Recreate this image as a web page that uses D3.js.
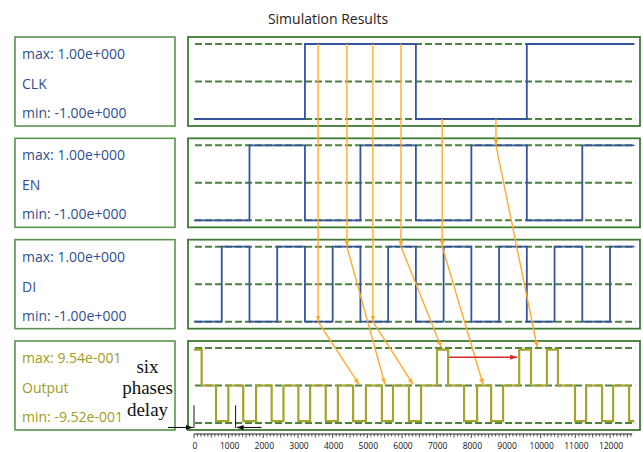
<!DOCTYPE html>
<html>
<head>
<meta charset="utf-8">
<script src="https://cdn.jsdelivr.net/npm/d3@7/dist/d3.min.js"></script>
<style>
  html, body { margin: 0; padding: 0; background: #fff; }
  svg { display: block; }
</style>
</head>
<body>
<svg id="chart" width="643" height="452"></svg>
<script>
// ---- signal data (time in ps-like units, levels in volts) ----
const signalNames = ["CLK", "EN", "DI", "Output"];
const maxLabels = ["max: 1.00e+000", "max: 1.00e+000", "max: 1.00e+000", "max: 9.54e-001"];
const minLabels = ["min: -1.00e+000", "min: -1.00e+000", "min: -1.00e+000", "min: -9.52e-001"];

const clkEdges = [3200, 6400, 9600];
const enEdges = [1600, 3200, 4800, 6400, 8000, 9600, 11200];
const diEdges = [800, 1600, 2400, 3200, 4000, 4800, 5600, 6400, 7200, 8000, 8800, 9600, 10400, 11200, 12000];
const startLevel = -1;

// output waveform as [time, level] steps
const outputSteps = [
  [0, 0.954], [220, 0], [635, -0.952], [990, 0], [1420, -0.952], [1790, 0],
  [2240, -0.952], [2580, 0], [3010, -0.952], [3350, 0], [3800, -0.952], [4150, 0],
  [4590, -0.952], [4960, 0], [5420, -0.952], [5740, 0], [6200, -0.952], [6550, 0],
  [7010, 0.954], [7330, 0], [7790, -0.952], [8165, 0], [8570, -0.952], [8915, 0],
  [9380, 0.954], [9720, 0], [10180, 0.954], [10500, 0], [10990, -0.952], [11310, 0],
  [11770, -0.952], [12090, 0], [12550, -0.952]
];
const tEnd = 12700;

// time axis
const majorTicks = [0, 1000, 2000, 3000, 4000, 5000, 6000, 7000, 8000, 9000, 10000, 11000, 12000];
const axisEnd = 12640;

// sampling annotations: clock instants -> input level -> resulting output
const sampleTimes = [3580, 4410, 5160, 5970, 7160, 8710];
const sampleClkLevel = [1, 1, 1, 1, -1, -1];
const sampleRow = [2, 2, 2, 2, 2, 1];
const sampleRowLevel = [-1, 1, -1, 1, 1, 1];
const resultTimes = [4760, 5510, 6320, 7130, 8340, 9900];
const resultLevels = [0, 0, 0, 1, 0, 1];

// red span between two output pulses
const spanFrom = 7360, spanTo = 9320, spanLevel = 0.755;

// six phases delay markers
const delayMarks = [0, 1200];
const delayText = ["six", "phases", "delay"];

// ---- layout ----
const svg = d3.select("#chart");
const blue = "#34559c", olive = "#a4a42c", gridGreen = "#3f7a35", orange = "#ffab2e";

const x = d3.scaleLinear().domain([0, tEnd]).range([194, 634.3]);
const rowTop = i => 37 + i * 101.33;
const rowH = 89;
const yRow = i => d3.scaleLinear().domain([-1, 1]).range([rowTop(i) + 82, rowTop(i) + 7]);

// markers
const defs = svg.append("defs");
function marker(id, color, len, wid) {
  defs.append("marker")
    .attr("id", id).attr("viewBox", `0 0 ${len} ${wid}`)
    .attr("refX", len).attr("refY", wid / 2)
    .attr("markerWidth", len).attr("markerHeight", wid)
    .attr("markerUnits", "userSpaceOnUse").attr("orient", "auto")
    .append("path").attr("d", `M0,0L${len},${wid / 2}L0,${wid}Z`).attr("fill", color);
}
marker("arrOrange", orange, 6, 5);
marker("arrRed", "#d42a2a", 7, 5);
marker("arrBlack", "#111", 7, 5);

// title
svg.append("text").attr("x", 328).attr("y", 24).attr("text-anchor", "middle")
  .attr("font-family", "Open Sans, sans-serif").attr("font-size", 14).attr("fill", "#222")
  .text("Simulation Results");

const stepLine = d3.line().curve(d3.curveStepAfter);

function edgesToSteps(edges) {
  const pts = [[0, startLevel]];
  let lv = startLevel;
  edges.forEach(t => { lv = -lv; pts.push([t, lv]); });
  pts.push([tEnd, lv]);
  return pts;
}
const seriesSteps = [edgesToSteps(clkEdges), edgesToSteps(enEdges), edgesToSteps(diEdges),
  outputSteps.concat([[tEnd, outputSteps[outputSteps.length - 1][1]]])];

signalNames.forEach((name, i) => {
  const top = rowTop(i);
  const y = yRow(i);
  const textColor = i === 3 ? "#9c9c1e" : "#2f4f92";

  // label box
  svg.append("rect").attr("x", 15).attr("y", top).attr("width", 160).attr("height", rowH)
    .attr("fill", "#fff").attr("stroke", "#5a9350").attr("stroke-width", 1.6);
  const g = svg.append("g").attr("font-family", "Open Sans, sans-serif")
    .attr("font-size", 14).attr("fill", textColor);
  g.append("text").attr("x", 22).attr("y", top + 22).text(maxLabels[i]);
  g.append("text").attr("x", 22).attr("y", top + 52).text(name);
  g.append("text").attr("x", 22).attr("y", top + 81).text(minLabels[i]);

  // plot frame
  svg.append("rect").attr("x", 188).attr("y", top).attr("width", 452).attr("height", rowH)
    .attr("fill", "#fff").attr("stroke", gridGreen).attr("stroke-width", 1.8);

  // dashed reference levels
  svg.append("g").selectAll("line").data([1, 0, -1]).join("line")
    .attr("x1", x(30)).attr("x2", x(tEnd) + 1)
    .attr("y1", d => y(d)).attr("y2", d => y(d))
    .attr("stroke", "#4b8040").attr("stroke-width", 2).attr("stroke-dasharray", "7,3");

  // waveform
  const lineGen = stepLine.x(d => x(d[0])).y(d => y(d[1]));
  svg.append("path").datum(seriesSteps[i]).attr("d", lineGen)
    .attr("fill", "none").attr("stroke", i === 3 ? olive : blue)
    .attr("stroke-width", i === 3 ? 2.2 : 1.8);
});

// time axis ruler
const axisY = 434;
const minorTicks = d3.range(0, axisEnd, 100);
svg.append("line").attr("x1", x(0)).attr("x2", x(axisEnd)).attr("y1", axisY).attr("y2", axisY)
  .attr("stroke", "#222").attr("stroke-width", 1);
svg.append("g").selectAll("line").data(minorTicks).join("line")
  .attr("x1", d => x(d)).attr("x2", d => x(d)).attr("y1", axisY)
  .attr("y2", d => axisY + (d % 1000 === 0 ? 4 : d % 500 === 0 ? 3.5 : 2.5))
  .attr("stroke", "#222").attr("stroke-width", 0.8);
svg.append("g").attr("font-family", "Open Sans, sans-serif").attr("font-size", 8.5)
  .attr("fill", "#111").attr("text-anchor", "middle")
  .selectAll("text").data(majorTicks).join("text")
  .attr("x", d => x(d) + 1).attr("y", 449).text(d => d);

// sampling arrows
const yClk = yRow(0), yOut = yRow(3);
sampleTimes.forEach((t, k) => {
  const yr = yRow(sampleRow[k]);
  svg.append("line").attr("x1", x(t)).attr("x2", x(t))
    .attr("y1", yClk(sampleClkLevel[k])).attr("y2", yr(sampleRowLevel[k]))
    .attr("stroke", orange).attr("stroke-width", 1.4).attr("marker-end", "url(#arrOrange)");
  svg.append("line").attr("x1", x(t)).attr("y1", yr(sampleRowLevel[k]))
    .attr("x2", x(resultTimes[k])).attr("y2", yOut(resultLevels[k]) - 1)
    .attr("stroke", orange).attr("stroke-width", 1.4).attr("marker-end", "url(#arrOrange)");
});

// span arrow
svg.append("line").attr("x1", x(spanFrom)).attr("x2", x(spanTo))
  .attr("y1", yOut(spanLevel)).attr("y2", yOut(spanLevel))
  .attr("stroke", "#d42a2a").attr("stroke-width", 1.4).attr("marker-end", "url(#arrRed)");

// delay markers
const markTop = yOut(-0.53), markBot = rowTop(3) + rowH - 2;
svg.append("g").selectAll("line").data(delayMarks).join("line")
  .attr("x1", d => x(d)).attr("x2", d => x(d)).attr("y1", markTop).attr("y2", markBot)
  .attr("stroke", "#111").attr("stroke-width", 1);
svg.append("line").attr("x1", x(delayMarks[0]) - 26).attr("x2", x(delayMarks[0]) - 1)
  .attr("y1", markBot - 0.5).attr("y2", markBot - 0.5)
  .attr("stroke", "#111").attr("stroke-width", 1.1).attr("marker-end", "url(#arrBlack)");
svg.append("line").attr("x1", x(delayMarks[1]) + 26).attr("x2", x(delayMarks[1]) + 1)
  .attr("y1", markBot - 0.5).attr("y2", markBot - 0.5)
  .attr("stroke", "#111").attr("stroke-width", 1.1).attr("marker-end", "url(#arrBlack)");

svg.append("g").attr("font-family", "Liberation Serif, Times New Roman, serif")
  .attr("font-size", 19).attr("fill", "#111").attr("text-anchor", "middle")
  .selectAll("text").data(delayText).join("text")
  .attr("x", 147.5).attr("y", (d, j) => rowTop(3) + 32 + j * 21.5).text(d => d);
</script>
</body>
</html>
